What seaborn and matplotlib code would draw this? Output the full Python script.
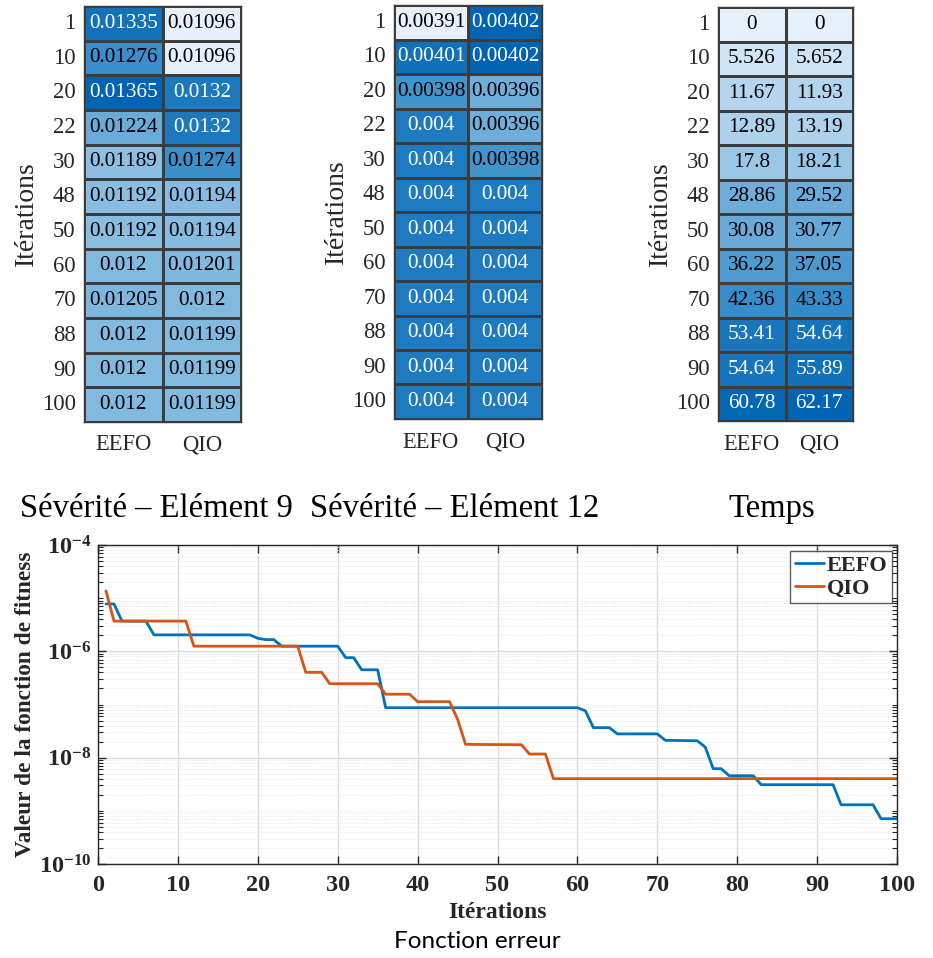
import numpy as np
import pandas as pd
import matplotlib
matplotlib.use("Agg")
import matplotlib.pyplot as plt
from matplotlib.colors import LinearSegmentedColormap, Normalize
from matplotlib.ticker import FixedLocator, FixedFormatter, NullFormatter
import seaborn as sns

sns.set_theme(style="white")
plt.rcParams["font.family"] = ["Liberation Serif", "DejaVu Serif"]
plt.rcParams["mathtext.fontset"] = "custom"
plt.rcParams["mathtext.rm"] = "Liberation Serif"
plt.rcParams["mathtext.bf"] = "Liberation Serif:bold"

# ---- heatmap data ----
iterations = [1, 10, 20, 22, 30, 48, 50, 60, 70, 88, 90, 100]
algorithms = ["EEFO", "QIO"]

sev9_eefo = [0.01335, 0.01276, 0.01365, 0.01224, 0.01189, 0.01192, 0.01192,
             0.012, 0.01205, 0.012, 0.012, 0.012]
sev9_qio = [0.01096, 0.01096, 0.0132, 0.0132, 0.01274, 0.01194, 0.01194,
            0.01201, 0.012, 0.01199, 0.01199, 0.01199]

sev12_eefo = [0.00391, 0.00401, 0.00398, 0.004, 0.004, 0.004, 0.004,
              0.004, 0.004, 0.004, 0.004, 0.004]
sev12_qio = [0.00402, 0.00402, 0.00396, 0.00396, 0.00398, 0.004, 0.004,
             0.004, 0.004, 0.004, 0.004, 0.004]

time_eefo = [0, 5.526, 11.67, 12.89, 17.8, 28.86, 30.08, 36.22, 42.36,
             53.41, 54.64, 60.78]
time_qio = [0, 5.652, 11.93, 13.19, 18.21, 29.52, 30.77, 37.05, 43.33,
            54.64, 55.89, 62.17]

panel_titles = ["Sévérité – Elément 9", "Sévérité – Elément 12", "Temps"]

# ---- convergence curves (vertices of the best-so-far curves) ----
eefo_iter = [1, 2, 3, 6, 7, 19, 20, 21, 22, 23, 30, 31, 32, 33, 35, 36, 60,
             61, 62, 64, 65, 70, 71, 75, 76, 77, 78, 79, 82, 83, 92, 93, 97,
             98, 100]
eefo_fit = [7.8e-6, 7.8e-6, 3.7e-6, 3.7e-6, 2.04e-6, 2.04e-6, 1.76e-6,
            1.66e-6, 1.66e-6, 1.25e-6, 1.25e-6, 7.6e-7, 7.6e-7, 4.5e-7,
            4.5e-7, 8.7e-8, 8.7e-8, 7.6e-8, 3.67e-8, 3.67e-8, 2.8e-8, 2.8e-8,
            2.12e-8, 2.08e-8, 1.58e-8, 6.2e-9, 6.2e-9, 4.57e-9, 4.57e-9,
            3.1e-9, 3.1e-9, 1.3e-9, 1.3e-9, 7.1e-10, 7.1e-10]

qio_iter = [1, 2, 11, 12, 25, 26, 28, 29, 35, 36, 39, 40, 44, 45, 46, 53,
            54, 56, 57, 100]
qio_fit = [1.37e-5, 3.7e-6, 3.7e-6, 1.25e-6, 1.25e-6, 4.03e-7, 4.03e-7,
           2.46e-7, 2.46e-7, 1.56e-7, 1.56e-7, 1.13e-7, 1.13e-7, 5.3e-8,
           1.78e-8, 1.75e-8, 1.17e-8, 1.17e-8, 4.03e-9, 4.03e-9]

W, H = 933, 958
fig = plt.figure(figsize=(W / 100, H / 100), dpi=100)


def px_axes(left, top, right, bottom):
    return fig.add_axes([left / W, 1 - bottom / H, (right - left) / W,
                         (bottom - top) / H])


cmap = LinearSegmentedColormap.from_list(
    "blues_hm", ["#e5f0fa", "#8fc0e3", "#3a8fcb", "#0064b2"])
text_dark = "#262626"

panels = [
    (sev9_eefo, sev9_qio, (84, 6, 241, 422), 156),
    (sev12_eefo, sev12_qio, (394, 5, 542, 419), 455),
    (time_eefo, time_qio, (718, 7, 853, 421), 772),
]

for (col_a, col_b, box, title_x), title in zip(panels, panel_titles):
    ax = px_axes(*box)
    df = pd.DataFrame({algorithms[0]: col_a, algorithms[1]: col_b},
                      index=iterations)
    labels = df.map(lambda v: f"{v:.4g}")
    vmin, vmax = df.values.min(), df.values.max()
    sns.heatmap(df, ax=ax, cmap=cmap, vmin=vmin, vmax=vmax, cbar=False,
                annot=labels, fmt="", linewidths=1.0, linecolor="#3c3c3c",
                annot_kws={"fontsize": 15.3, "family": "Liberation Serif"})
    norm = Normalize(vmin, vmax)
    for txt, val in zip(ax.texts, df.values.ravel()):
        txt.set_color("white" if norm(val) > 0.75 else "black")
    for s in ax.spines.values():
        s.set_visible(True)
        s.set_color("#3c3c3c")
        s.set_linewidth(1.0)
    ax.tick_params(axis="both", length=0, labelsize=16.3,
                   labelcolor=text_dark)
    ax.tick_params(axis="y", pad=6, rotation=0)
    ax.tick_params(axis="x", pad=9)
    ax.set_ylabel("Itérations", fontsize=20, color=text_dark, labelpad=2)
    ax.set_xlabel("")
    fig.text(title_x / W, 1 - 509 / H, title,
             ha="center", va="center", fontsize=23.5, color="black")

# ---- convergence plot ----
ax = px_axes(98, 545, 897, 864)
curve = pd.concat([
    pd.DataFrame({"Itérations": eefo_iter, "fit": eefo_fit, "algo": "EEFO"}),
    pd.DataFrame({"Itérations": qio_iter, "fit": qio_fit, "algo": "QIO"}),
])
sns.lineplot(data=curve, x="Itérations", y="fit", hue="algo", sort=False,
             estimator=None, palette=["#0072BD", "#D95319"], linewidth=2.0,
             ax=ax)
ax.set_yscale("log")
ax.set_xlim(0, 100)
ax.set_ylim(1e-10, 1e-4)

ax.xaxis.set_major_locator(FixedLocator(np.arange(0, 101, 10)))
ax.set_xticklabels([str(v) for v in range(0, 101, 10)])
major_y = [1e-10, 1e-8, 1e-6, 1e-4]
ax.yaxis.set_major_locator(FixedLocator(major_y))
ax.yaxis.set_major_formatter(FixedFormatter(
    [r"$\mathbf{10^{-10}}$", r"$\mathbf{10^{-8}}$", r"$\mathbf{10^{-6}}$",
     r"$\mathbf{10^{-4}}$"]))
minor_y = [m * 10.0 ** e for e in range(-10, -4) for m in range(1, 10)
           if not (m == 1 and e % 2 == 0)]
ax.yaxis.set_minor_locator(FixedLocator(minor_y))
ax.yaxis.set_minor_formatter(NullFormatter())

ax.tick_params(axis="x", which="major", direction="in", length=6,
               width=1.0, color="#262626", top=True, bottom=True,
               labelsize=17.5, pad=8)
ax.tick_params(axis="y", which="major", direction="in", length=6,
               width=1.0, color="#262626", left=True, right=True,
               labelsize=17.5, pad=5)
ax.tick_params(axis="y", which="minor", direction="in", length=3.5,
               width=0.8, color="#262626", left=True, right=True)
for lab in ax.get_xticklabels() + ax.get_yticklabels():
    lab.set_fontweight("bold")
    lab.set_color(text_dark)

ax.grid(True, which="major", color="#dcdcdc", linewidth=1.0)
ax.grid(True, which="minor", axis="y", color="#e4e4e4", linewidth=0.6,
        linestyle=(0, (1, 1.5)))
ax.set_axisbelow(True)
for s in ax.spines.values():
    s.set_color("#262626")
    s.set_linewidth(1.0)

ax.set_xlabel("Itérations", fontsize=17, fontweight="bold", color=text_dark,
              labelpad=4)
ax.set_ylabel("Valeur de la fonction de fitness", fontsize=16.8,
              fontweight="bold", color=text_dark, labelpad=2)

leg = ax.legend(loc="upper right", bbox_to_anchor=(0.994, 0.981),
                frameon=True, fancybox=False, edgecolor="#333333",
                fontsize=16, handlelength=1.3, handletextpad=0.15,
                borderpad=0.2, labelspacing=0.1, borderaxespad=0.0)
leg.get_frame().set_linewidth(1.0)
for t in leg.get_texts():
    t.set_fontweight("bold")

fig.text(477 / W, 1 - 942 / H, "Fonction erreur", ha="center", va="center",
         fontsize=17.5, family=["Lato", "DejaVu Sans"], color="black")

fig.savefig("out.png", dpi=100)
